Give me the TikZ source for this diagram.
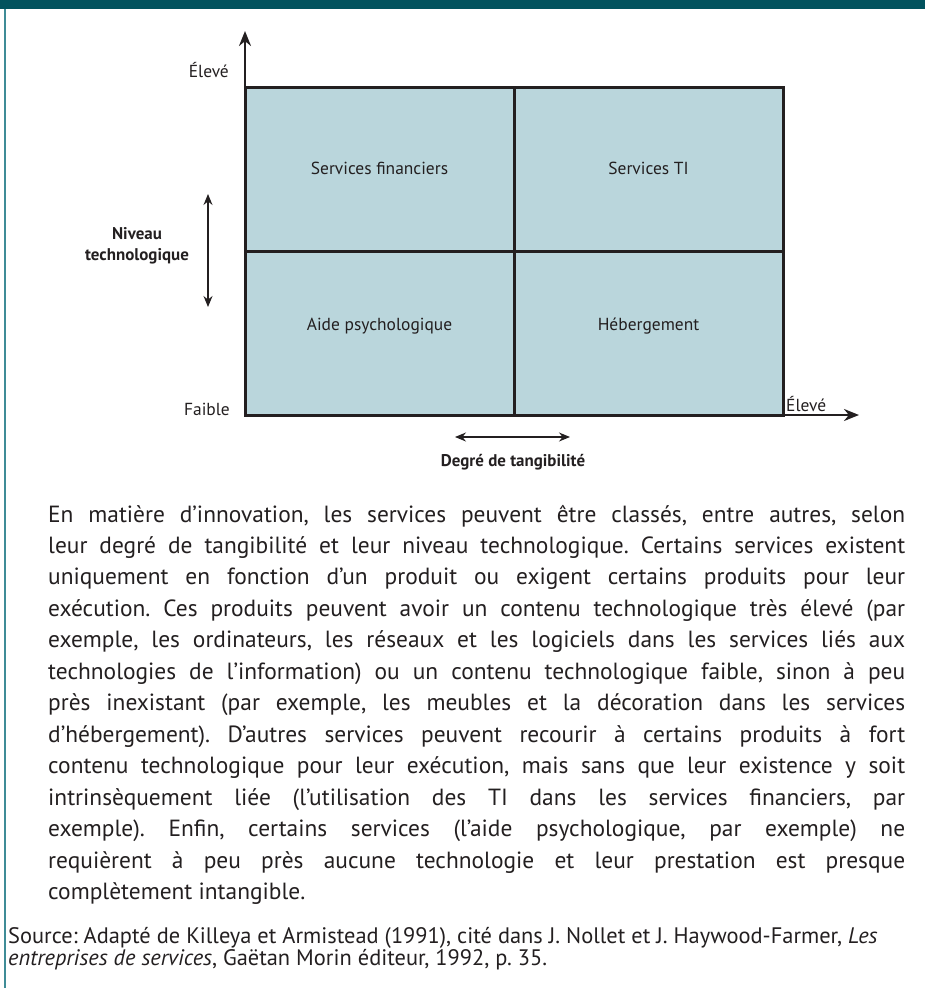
\documentclass[tikz,border=0pt]{standalone}
\usepackage{fontspec}
\setmainfont{PT Sans}
\usetikzlibrary{arrows.meta}
\definecolor{barteal}{HTML}{02535E}
\definecolor{frameteal}{HTML}{3F8C97}
\definecolor{cellfill}{HTML}{BAD6DC}
\definecolor{ink}{HTML}{231F20}
\tikzset{
  cellbox/.style={draw=ink, fill=cellfill, line width=3bp, minimum width=269bp, minimum height=164bp, inner sep=0pt},
  celltext/.style={text=ink, font=\fontsize{17.5}{20}\selectfont, inner sep=0pt},
  axislabel/.style={text=ink, font=\fontsize{17.5}{20}\selectfont, inner sep=0pt},
  boldlabel/.style={text=ink, font=\fontsize{17}{21}\selectfont\bfseries, inner sep=0pt, align=center},
  axisline/.style={draw=ink, line width=2.4bp, -{Stealth[length=15bp,width=12bp]}},
  dblarrow/.style={draw=ink, line width=1.2bp, {Stealth[length=11bp,width=9bp]}-{Stealth[length=11bp,width=9bp]}},
}
\begin{document}
\frenchspacing
\begin{tikzpicture}[x=1bp,y=-1bp]
\useasboundingbox (0,0) rectangle (925,988);
% frame
\fill[barteal] (0,0) rectangle (925,9);
\draw[frameteal, line width=2bp] (5,9) -- (5,988);
% axes
\coordinate (origin) at (245,415);
\coordinate (ytip) at (245,31);
\coordinate (xtip) at (859,415);
\draw[axisline] (origin) -- (ytip);
\draw[axisline] (origin) -- (xtip);
% cells
\node[cellbox] (c11) at (379.5,169) {};
\node[cellbox] (c12) at (648.5,169) {};
\node[cellbox] (c21) at (379.5,333) {};
\node[cellbox] (c22) at (648.5,333) {};
\node[celltext] (t11) at (379.5,168) {Services financiers};
\node[celltext] (t12) at (648.5,168) {Services TI};
\node[celltext] (t21) at (379.5,326) {Aide psychologique};
\node[celltext] (t22) at (648.5,326) {Hébergement};
% axis labels
\node[axislabel, anchor=east] (yhigh) at (229,70) {Élevé};
\node[axislabel, anchor=east] (ylow) at (230,409) {Faible};
\node[axislabel, anchor=west] (xhigh) at (786,404) {Élevé};
% double arrows
\coordinate (va) at (208,194);
\coordinate (vb) at (208,307);
\draw[dblarrow] (va) -- (vb);
\coordinate (ha) at (455,437);
\coordinate (hb) at (570,437);
\draw[dblarrow] (ha) -- (hb);
\node[boldlabel] (ylabel) at (137,246) {Niveau\\technologique};
\node[boldlabel] (xlabel) at (513,462) {Degré de tangibilité};
% paragraph
\node[anchor=base west, inner sep=0pt, text=ink] (para) at (48,522) {\parbox[t]{857bp}{%
\fontsize{23.5}{31.6}\selectfont
\makebox[857bp][s]{En matière d’innovation, les services peuvent être classés, entre autres, selon}\\
\makebox[857bp][s]{leur degré de tangibilité et leur niveau technologique. Certains services existent}\\
\makebox[857bp][s]{uniquement en fonction d’un produit ou exigent certains produits pour leur}\\
\makebox[857bp][s]{exécution. Ces produits peuvent avoir un contenu technologique très élevé (par}\\
\makebox[857bp][s]{exemple, les ordinateurs, les réseaux et les logiciels dans les services liés aux}\\
\makebox[857bp][s]{technologies de l’information) ou un contenu technologique faible, sinon à peu}\\
\makebox[857bp][s]{près inexistant (par exemple, les meubles et la décoration dans les services}\\
\makebox[857bp][s]{d’hébergement). D’autres services peuvent recourir à certains produits à fort}\\
\makebox[857bp][s]{contenu technologique pour leur exécution, mais sans que leur existence y soit}\\
\makebox[857bp][s]{intrinsèquement liée (l’utilisation des TI dans les services financiers, par}\\
\makebox[857bp][s]{exemple). Enfin, certains services (l’aide psychologique, par exemple) ne}\\
\makebox[857bp][s]{requièrent à peu près aucune technologie et leur prestation est presque}\\
complètement intangible.}};
% source
\node[anchor=base west, inner sep=0pt, text=ink] (source) at (8,943) {\parbox[t]{1100bp}{%
\fontsize{22.5}{23}\selectfont
Source: Adapté de Killeya et Armistead (1991), cité dans J. Nollet et J. Haywood-Farmer, \textit{Les}\\
\textit{entreprises de services}, Gaëtan Morin éditeur, 1992, p. 35.}};
\end{tikzpicture}
\end{document}
